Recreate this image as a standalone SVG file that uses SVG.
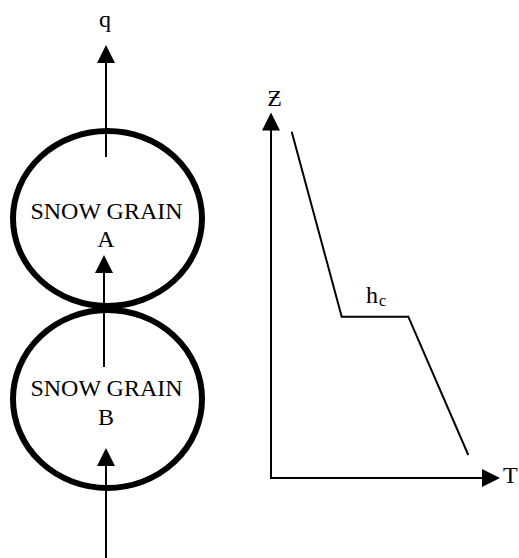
<svg xmlns="http://www.w3.org/2000/svg" width="519" height="558" viewBox="0 0 519 558">
<style>
.t{font-family:"Liberation Serif","Times New Roman",serif;font-size:24px;fill:#000}
.grain{fill:none;stroke:#000;stroke-width:6}
.ln{fill:none;stroke:#000;stroke-width:2}
</style>
<defs>
<marker id="ah" markerUnits="userSpaceOnUse" markerWidth="18" markerHeight="18" refX="13" refY="9" orient="auto" viewBox="0 0 18 18">
<path d="M0,0 L18,9 L0,18 z" fill="#000"/>
</marker>
</defs>
<rect width="519" height="558" fill="#fff"/>
<g id="grainA">
<ellipse class="grain" cx="107.5" cy="218.5" rx="94.5" ry="87.5"/>
<text class="t" x="106.5" y="219" text-anchor="middle">SNOW GRAIN</text>
<text class="t" x="106" y="247" text-anchor="middle">A</text>
</g>
<g id="grainB">
<ellipse class="grain" cx="107.5" cy="399" rx="94.5" ry="89"/>
<text class="t" x="106.5" y="396" text-anchor="middle">SNOW GRAIN</text>
<text class="t" x="106" y="425" text-anchor="middle">B</text>
</g>
<g id="labels">
<text class="t" x="105" y="27" text-anchor="middle">q</text>
<text class="t" x="274.5" y="106" text-anchor="middle">Ƶ</text>
<text class="t" x="503" y="483">T</text>
<text class="t" x="366" y="303">h<tspan font-size="16" dy="3" dx="1">c</tspan></text>
</g>
<g id="connectors">
<line class="ln" x1="106" y1="157" x2="106" y2="50" marker-end="url(#ah)"/>
<line class="ln" x1="104" y1="367" x2="104" y2="260" marker-end="url(#ah)"/>
<line class="ln" x1="106" y1="558" x2="106" y2="453" marker-end="url(#ah)"/>
<line class="ln" x1="271" y1="479" x2="271" y2="117.5" marker-end="url(#ah)"/>
<line class="ln" x1="270" y1="478" x2="495" y2="478" marker-end="url(#ah)"/>
<polyline class="ln" points="291.7,131.7 341.7,316.7 408.3,316.7 468.3,455"/>
</g>
</svg>
